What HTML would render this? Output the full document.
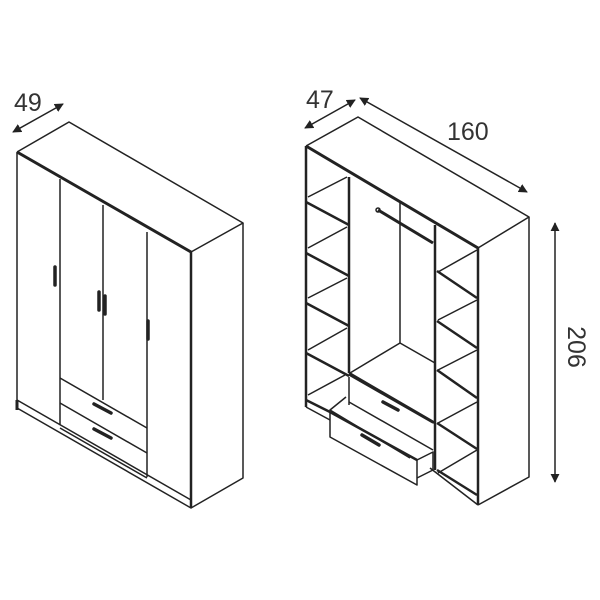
<!DOCTYPE html>
<html><head><style>body{margin:0;background:#fff}svg{display:block}</style></head><body>
<svg width="600" height="600" viewBox="0 0 600 600" xmlns="http://www.w3.org/2000/svg">
<defs><marker id="a" viewBox="0 0 10 10" refX="9" refY="5" markerWidth="6" markerHeight="6" orient="auto-start-reverse"><path d="M0,0L10,5L0,10z" fill="#222"/></marker></defs>
<g fill="none" stroke="#222" stroke-width="1.5" stroke-linejoin="round">
<!-- LEFT WARDROBE -->
<path d="M17,152 L69,122 L243,223 L191,252"/>
<path d="M17,152 L17,408 L191,508 L191,252"/>
<path d="M243,223 L243,478 L191,508"/>
<path d="M17,152 L191,252" stroke-width="3"/>
<path d="M191,252 L191,508" stroke-width="2.5"/>
<path d="M17,400 L191,500"/>
<path d="M17,400 L17,410" stroke-width="3"/>
<path d="M60,179 L60,425"/>
<path d="M103,205 L103,400"/>
<path d="M147,232 L147,477"/>
<path d="M60,378 L147,428"/>
<path d="M60,403 L147,453"/>
<path d="M60,428 L147,478"/>
<g stroke-width="3.5" stroke-linecap="round">
<path d="M55,267 L55,285"/><path d="M99,292 L99,310"/><path d="M105,296 L105,314"/><path d="M148,321 L148,339"/>
<path d="M94,404 L111,413"/><path d="M94,429 L111,438"/>
</g>
<path d="M13,132 L63,104" marker-start="url(#a)" marker-end="url(#a)"/>
<!-- RIGHT WARDROBE -->
<path d="M306,146 L358,117 L529,217 L478,248"/>
<path d="M306,146 L306,407"/>
<path d="M478,248 L478,505"/>
<path d="M529,217 L529,477 L478,505"/>
<path d="M306,146 L478,248" stroke-width="3"/>
<path d="M306,407 L330,420"/>
<path d="M430,468 L478,505"/>
<path d="M306,146 L306,407" stroke-width="2.5"/>
<path d="M478,248 L478,505" stroke-width="2.5"/>
<path d="M349,177 L349,373" stroke-width="2.5"/>
<path d="M435,225 L435,470" stroke-width="2.5"/>
<!-- left shelves -->
<g stroke-width="2.5">
<path d="M306,202 L349,225"/><path d="M306,253 L349,276"/><path d="M306,303 L349,326"/><path d="M306,353 L349,376"/><path d="M306,400 L330,412"/>
<path d="M437,271 L477,298"/><path d="M437,321 L477,348"/><path d="M437,370 L477,398"/><path d="M437,423 L477,449"/><path d="M437,470 L477,495"/>
<path d="M349,373 L435,423"/>
</g>
<path d="M308,197 L347,177"/><path d="M308,248 L347,227"/><path d="M308,298 L347,278"/><path d="M308,350 L347,328"/><path d="M308,395 L345,375"/>
<path d="M438,272 L477,250"/><path d="M438,320 L477,300"/><path d="M438,370 L477,350"/><path d="M438,423 L477,402"/><path d="M438,473 L477,450"/>
<!-- middle -->
<path d="M400,203 L400,343"/><path d="M400,343 L350,373"/><path d="M400,343 L435,363"/>
<path d="M378,210 L433,243" stroke-width="3"/>
<circle cx="378" cy="210" r="2"/>
<!-- drawers -->
<path d="M349,377 L349,405"/>
<path d="M349,375 L433,423"/>
<path d="M349,402 L433,450"/>
<path d="M346,397 L330,410 L410,458"/>
<path d="M330,412 L330,437 L417,485 L417,460 Z"/>
<path d="M417,460 L433,452 L433,470 L417,478" />
<path d="M330,412 L417,460" stroke-width="2.5"/>
<g stroke-width="3.5" stroke-linecap="round"><path d="M383,402 L398,410"/><path d="M362,435 L379,445"/></g>
<!-- dims -->
<path d="M305,128 L355,100" marker-start="url(#a)" marker-end="url(#a)"/>
<path d="M360,98 L527,192" marker-start="url(#a)" marker-end="url(#a)"/>
<path d="M555,223 L555,482" marker-start="url(#a)" marker-end="url(#a)"/>
</g>
<g font-family="'Liberation Sans',sans-serif" font-size="25" fill="#333">
<text x="14" y="111">49</text>
<text x="306" y="108">47</text>
<text x="447" y="140">160</text>
<text transform="translate(568,347) rotate(90)" text-anchor="middle">206</text>
</g>
</svg>
</body></html>
